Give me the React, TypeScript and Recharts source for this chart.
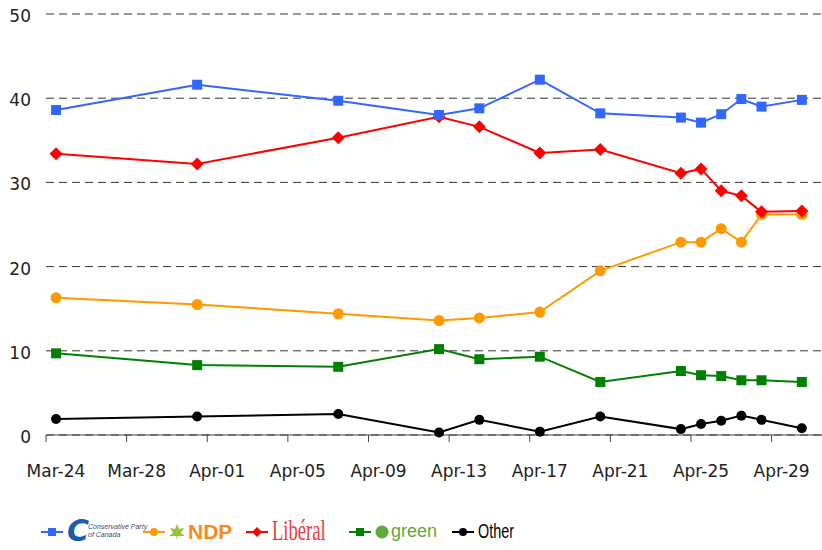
import { CartesianGrid, Line, LineChart, XAxis, YAxis } from 'recharts'

// days counted from Mar-24
const pollDays = [0, 7, 14, 19, 21, 24, 27, 31, 32, 33, 34, 35, 37]
const conservative = [38.6, 41.6, 39.7, 38.0, 38.8, 42.2, 38.2, 37.7, 37.1, 38.1, 39.9, 39.0, 39.8]
const ndp = [16.3, 15.5, 14.4, 13.6, 13.9, 14.6, 19.5, 22.9, 22.9, 24.5, 22.9, 26.2, 26.2]
const liberal = [33.4, 32.2, 35.3, 37.8, 36.6, 33.5, 33.9, 31.1, 31.6, 29.0, 28.4, 26.5, 26.6]
const green = [9.7, 8.3, 8.1, 10.2, 9.0, 9.3, 6.3, 7.6, 7.1, 7.0, 6.5, 6.5, 6.3]
const other = [1.9, 2.2, 2.5, 0.3, 1.8, 0.4, 2.2, 0.7, 1.3, 1.7, 2.3, 1.8, 0.8]

const tickDays = [0, 4, 8, 12, 16, 20, 24, 28, 32, 36]
const tickLabels = ['Mar-24', 'Mar-28', 'Apr-01', 'Apr-05', 'Apr-09', 'Apr-13', 'Apr-17', 'Apr-21', 'Apr-25', 'Apr-29']
const yTicks = [0, 10, 20, 30, 40, 50]

const data = pollDays.map((d, i) => ({
  day: d,
  con: conservative[i],
  ndp: ndp[i],
  lib: liberal[i],
  grn: green[i],
  oth: other[i],
}))

const FONT = '"DejaVu Sans", Verdana, sans-serif'
const SANS = '"Liberation Sans", Arial, sans-serif'

const square = (color: string, s: number) => (p: any) => (
  <rect key={p.index} x={p.cx - s / 2} y={p.cy - s / 2} width={s} height={s} fill={color} />
)
const circle = (color: string, r: number) => (p: any) => (
  <circle key={p.index} cx={p.cx} cy={p.cy} r={r} fill={color} />
)
const diamond = (color: string, r: number) => (p: any) => (
  <polygon
    key={p.index}
    points={`${p.cx},${p.cy - r} ${p.cx + r},${p.cy} ${p.cx},${p.cy + r} ${p.cx - r},${p.cy}`}
    fill={color}
  />
)

const XTick = (p: any) => {
  const i = tickDays.indexOf(Math.round(p.payload.value + 0.5))
  return (
    <text x={p.x + 10} y={p.y + 33} textAnchor='middle' fontSize={17} fontFamily={FONT} fill='#222'>
      {tickLabels[i]}
    </text>
  )
}

const YTick = (p: any) => (
  <text x={p.x} y={p.y + 8} textAnchor='end' fontSize={17} fontFamily={FONT} fill='#222'>
    {p.payload.value}
  </text>
)

const Marker = ({ color, kind, left }: { color: string; kind: string; left: number }) => (
  <svg width={22} height={12} style={{ position: 'absolute', left, top: 14 }}>
    <line x1={0} y1={6} x2={22} y2={6} stroke={color} strokeWidth={2} />
    {kind === 'square' && <rect x={7} y={2} width={8} height={8} fill={color} />}
    {kind === 'circle' && <circle cx={11} cy={6} r={4} fill={color} />}
    {kind === 'diamond' && <polygon points='11,1 16,6 11,11 6,6' fill={color} />}
  </svg>
)

const abs = (left: number, top: number, extra: any = {}) => ({
  position: 'absolute' as const,
  left,
  top,
  whiteSpace: 'nowrap' as const,
  ...extra,
})

function LegendRow() {
  return (
    <div style={{ position: 'absolute', left: 0, top: 512, width: 822, height: 40 }}>
      <Marker color='#3366ff' kind='square' left={41} />
      <span style={abs(67, 2, { fontFamily: FONT, fontWeight: 'bold', fontStyle: 'italic', fontSize: 30, color: '#1d5ea8', lineHeight: '34px' })}>
        C
      </span>
      <span style={abs(88, 11, { fontFamily: SANS, fontStyle: 'italic', fontSize: 7, color: '#3d4a6a', lineHeight: '8px' })}>
        Conservative Party
        <br />
        of Canada
      </span>

      <Marker color='#ff9900' kind='circle' left={143} />
      <svg width={18} height={18} style={{ position: 'absolute', left: 168, top: 11 }}>
        <polygon points='9,1 11,6 16,5 13,10 17,13 9,13 9,17 8,13 1,13 5,10 2,5 7,6' fill='#9bc23c' />
      </svg>
      <span style={abs(188, 7, { fontFamily: SANS, fontWeight: 'bold', fontSize: 21, color: '#f7891e', lineHeight: '26px' })}>
        NDP
      </span>

      <Marker color='#ff0000' kind='diamond' left={246} />
      <span
        style={abs(272, 0, {
          fontFamily: '"Liberation Serif", serif',
          fontSize: 30,
          color: '#ee3b3b',
          lineHeight: '36px',
          transform: 'scaleX(0.62)',
          transformOrigin: 'left center',
        })}
      >
        Libéral
      </span>

      <Marker color='#008000' kind='square' left={349} />
      <svg width={14} height={14} style={{ position: 'absolute', left: 375, top: 13 }}>
        <circle cx={7} cy={7} r={6.5} fill='#5fa83a' />
      </svg>
      <span style={abs(391, 6, { fontFamily: SANS, fontSize: 18, color: '#5fa83a', lineHeight: '26px' })}>green</span>

      <Marker color='#000000' kind='circle' left={452} />
      <span
        style={abs(478, 6, {
          fontFamily: SANS,
          fontSize: 20,
          color: '#000',
          lineHeight: '26px',
          transform: 'scaleX(0.72)',
          transformOrigin: 'left center',
        })}
      >
        Other
      </span>
    </div>
  )
}

export default function App() {
  return (
    <div style={{ position: 'relative', width: 822, height: 550, background: '#fff' }}>
      <style>{'body{margin:0}'}</style>
      <LineChart width={822} height={550} data={data} margin={{ top: 14, right: 0, bottom: 85, left: 0 }}>
        <CartesianGrid vertical={false} stroke='#333' strokeDasharray='8 5' />
        <XAxis
          dataKey='day'
          type='number'
          domain={[-0.5, 38]}
          ticks={tickDays.map((d) => d - 0.5)}
          height={30}
          stroke='#444'
          tickSize={7}
          tick={<XTick />}
          interval={0}
        />
        <YAxis
          domain={[0, 50]}
          ticks={yTicks}
          width={46}
          axisLine={false}
          tickLine={false}
          tickSize={0}
          tickMargin={15}
          tick={<YTick />}
        />
        <Line dataKey='oth' stroke='#000' strokeWidth={2} dot={circle('#000', 5)} isAnimationActive={false} />
        <Line dataKey='grn' stroke='#008000' strokeWidth={2} dot={square('#008000', 10)} isAnimationActive={false} />
        <Line dataKey='ndp' stroke='#ff9900' strokeWidth={2} dot={circle('#ff9900', 5.5)} isAnimationActive={false} />
        <Line dataKey='lib' stroke='#ff0000' strokeWidth={2} dot={diamond('#ff0000', 6.5)} isAnimationActive={false} />
        <Line dataKey='con' stroke='#3366ff' strokeWidth={2} dot={square('#3366ff', 10)} isAnimationActive={false} />
      </LineChart>
      <LegendRow />
    </div>
  )
}
